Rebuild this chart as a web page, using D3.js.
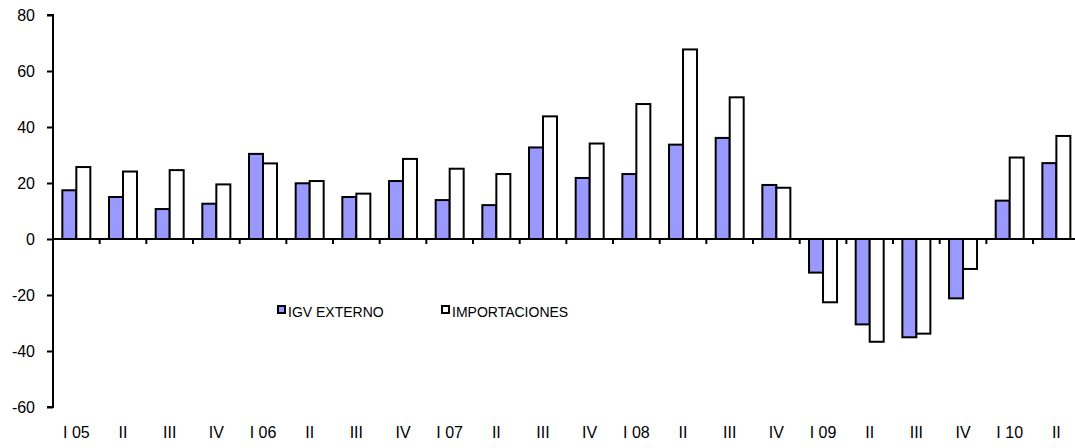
<!DOCTYPE html>
<html>
<head>
<meta charset="utf-8">
<script src="https://cdn.jsdelivr.net/npm/d3@7"></script>
<style>
  html, body { margin: 0; padding: 0; background: #fff; }
  svg { display: block; font-family: "Liberation Sans", Arial, sans-serif; }
</style>
</head>
<body>
<svg id="chart" width="1075" height="448"></svg>
<script>
const categories = ["I 05","II","III","IV","I 06","II","III","IV","I 07","II","III","IV","I 08","II","III","IV","I 09","II","III","IV","I 10","II"];
const seriesNames = ["IGV EXTERNO","IMPORTACIONES"];
const igvExterno = [17.4,15.0,10.7,12.6,30.4,19.9,15.0,20.7,13.9,12.1,32.7,21.8,23.2,33.7,36.1,19.3,-12.0,-30.5,-35.1,-21.2,13.7,27.1];
const importaciones = [25.7,24.1,24.6,19.5,27.0,20.7,16.2,28.6,25.1,23.2,43.8,34.1,48.2,67.7,50.6,18.3,-22.6,-36.7,-33.8,-10.7,29.1,36.8];
const yTicks = [-60,-40,-20,0,20,40,60,80];
const colors = ["#9999ff","#ffffff"];

const svg = d3.select("#chart");
const mLeft = 53, mRight = 1079.7, mTop = 15, mBottom = 407;

const y = d3.scaleLinear().domain([-60, 80]).range([mBottom, mTop]);
const x = d3.scaleBand().domain(d3.range(categories.length)).range([mLeft, mRight])
  .paddingInner(0.4).paddingOuter(0.2);
const x1 = d3.scaleBand().domain([0,1]).range([0, x.bandwidth()]);
const step = x.step();
const boundary = i => x(i) - step * 0.2;

const data = categories.map((c, i) => ({i, vals: [igvExterno[i], importaciones[i]]}));

// Bars
const g = svg.append("g");
g.selectAll("g.cat").data(data).join("g")
  .attr("class", "cat")
  .attr("transform", d => `translate(${x(d.i)},0)`)
  .selectAll("rect").data(d => d.vals.map((v, s) => ({v, s}))).join("rect")
  .attr("x", d => x1(d.s))
  .attr("width", x1.bandwidth())
  .attr("y", d => Math.min(y(0), y(d.v)))
  .attr("height", d => Math.abs(y(d.v) - y(0)))
  .attr("fill", d => colors[d.s])
  .attr("stroke", "#000")
  .attr("stroke-width", 2);

// Zero axis line with category-boundary ticks
svg.append("line")
  .attr("x1", mLeft).attr("x2", 1075)
  .attr("y1", y(0)).attr("y2", y(0))
  .attr("stroke", "#000").attr("stroke-width", 2);
svg.selectAll("line.xtick").data(d3.range(categories.length)).join("line")
  .attr("class", "xtick")
  .attr("x1", d => boundary(d)).attr("x2", d => boundary(d))
  .attr("y1", y(0)).attr("y2", y(0) + 5)
  .attr("stroke", "#000").attr("stroke-width", 2);

// Y axis
const yAxis = d3.axisLeft(y).tickValues(yTicks).tickSize(6).tickPadding(12).tickFormat(d => String(d));
const ya = svg.append("g").attr("transform", `translate(${mLeft},0)`).call(yAxis);
ya.select(".domain").attr("stroke-width", 2).attr("d", `M-6,${y(80)}H0V${y(-60)}H-6`);
ya.selectAll(".tick line").attr("stroke-width", 2);
ya.selectAll("text").attr("font-size", 16).attr("font-family", "Liberation Sans, Arial, sans-serif").attr("fill", "#000");

// X labels
const xAxis = d3.axisBottom(x).tickSize(0).tickFormat(i => categories[i]);
const xa = svg.append("g").attr("transform", `translate(0,${425})`).call(xAxis);
xa.select(".domain").remove();
xa.selectAll("text").attr("font-size", 16).attr("font-family", "Liberation Sans, Arial, sans-serif").attr("fill", "#000").attr("dy", "0.71em").attr("y", 2);

// Legend
const legend = svg.append("g");
const legendPos = [278, 442];
seriesNames.forEach((n, s) => {
  const lg = legend.append("g").attr("transform", `translate(${legendPos[s]},306)`);
  lg.append("rect").attr("x", 0).attr("y", 0).attr("width", 7).attr("height", 7)
    .attr("fill", colors[s]).attr("stroke", "#000").attr("stroke-width", 2);
  lg.append("text").attr("x", 10).attr("y", 11).attr("font-size", 14).attr("fill", "#000").text(n);
});
</script>
</body>
</html>
